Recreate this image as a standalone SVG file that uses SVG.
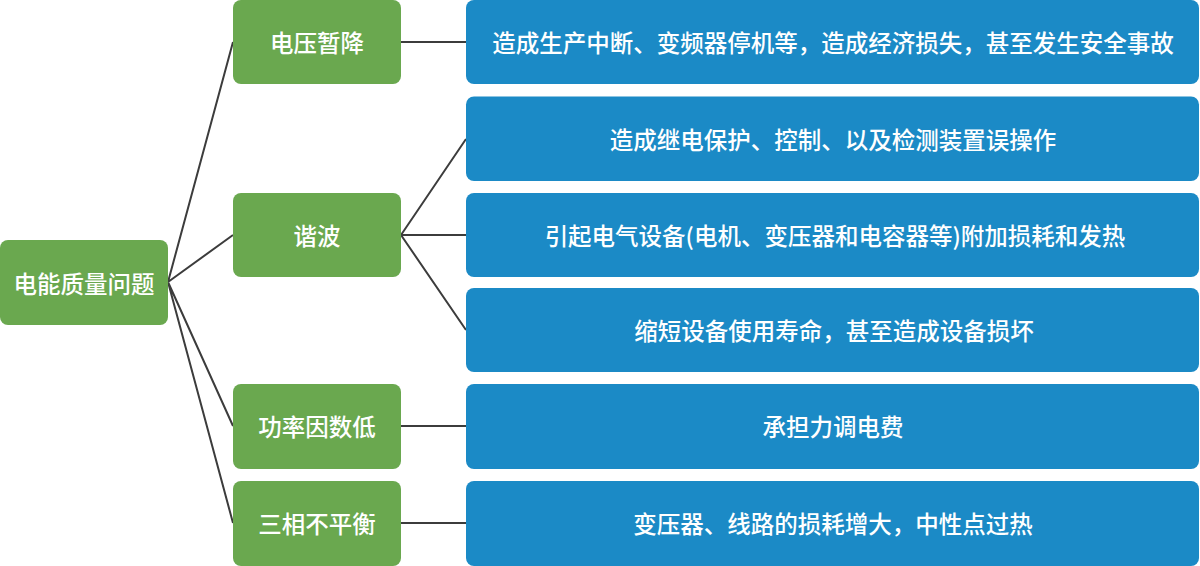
<svg xmlns="http://www.w3.org/2000/svg" width="1200" height="566" viewBox="0 0 1200 566">
<style>
.g{fill:#6aa84f}
.b{fill:#1b8ac6}
.t{fill:#ffffff;font-family:"Noto Sans CJK SC","Liberation Sans",sans-serif;font-size:23.5px;font-weight:500;text-anchor:middle;dominant-baseline:central}
.c{stroke:#3c3c3c;stroke-width:2;fill:none}
</style>
<rect width="1200" height="566" fill="#ffffff"/>
<g id="connectors">
<path class="c" d="M168 282L233 42M168 282L233 235M168 282L233 426M168 282L233 523"/>
<path class="c" d="M401 42L466 42M401 235L466 139M401 235L466 235M401 235L466 330M401 426L466 426M401 523L466 523"/>
</g>
<g id="root"><rect class="g" x="0" y="240" width="168" height="85" rx="8"/><text class="t" x="84" y="283">电能质量问题</text></g>
<g id="n1"><rect class="g" x="233" y="0" width="168" height="84" rx="8"/><text class="t" x="317" y="42">电压暂降</text></g>
<g id="n2"><rect class="g" x="233" y="193" width="168" height="84" rx="8"/><text class="t" x="317" y="235">谐波</text></g>
<g id="n3"><rect class="g" x="233" y="384" width="168" height="85" rx="8"/><text class="t" x="317" y="426">功率因数低</text></g>
<g id="n4"><rect class="g" x="233" y="481" width="168" height="85" rx="8"/><text class="t" x="317" y="523">三相不平衡</text></g>
<g id="d1"><rect class="b" x="466" y="0" width="733" height="84" rx="8"/><text class="t" x="833" y="42">造成生产中断、变频器停机等，造成经济损失，甚至发生安全事故</text></g>
<g id="d2"><rect class="b" x="466" y="96.5" width="733" height="84.5" rx="8"/><text class="t" x="833" y="139">造成继电保护、控制、以及检测装置误操作</text></g>
<g id="d3"><rect class="b" x="466" y="193" width="733" height="84" rx="8"/><text class="t" x="835" y="235">引起电气设备(电机、变压器和电容器等)附加损耗和发热</text></g>
<g id="d4"><rect class="b" x="466" y="288" width="733" height="84" rx="8"/><text class="t" x="834" y="330">缩短设备使用寿命，甚至造成设备损坏</text></g>
<g id="d5"><rect class="b" x="466" y="384" width="733" height="85" rx="8"/><text class="t" x="833" y="426">承担力调电费</text></g>
<g id="d6"><rect class="b" x="466" y="481" width="733" height="85" rx="8"/><text class="t" x="833" y="523">变压器、线路的损耗增大，中性点过热</text></g>
</svg>
